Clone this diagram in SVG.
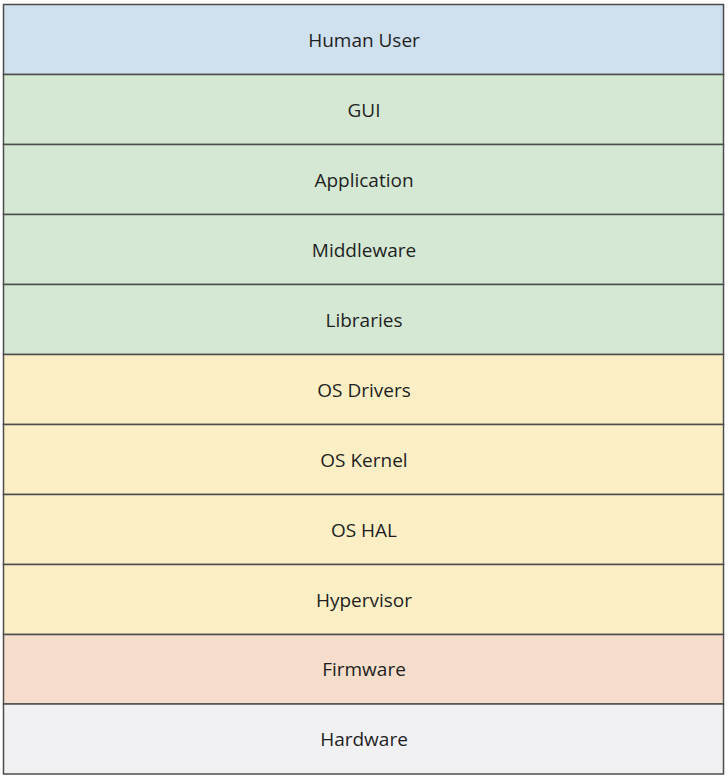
<svg xmlns="http://www.w3.org/2000/svg" width="728" height="780" viewBox="0 0 728 780">
  <style>
    .layer rect { stroke: #4d4d4d; stroke-width: 1.5; }
    .layer text { font-family: "Open Sans", "Liberation Sans", sans-serif; font-size: 19px; fill: #1f1f1f; text-anchor: middle; dominant-baseline: central; }
    .user rect { fill: #cfe0ee; }
    .app rect { fill: #d5e8d4; }
    .os rect { fill: #fcefc6; }
    .fw rect { fill: #f6ddcc; }
    .hw rect { fill: #f1f1f3; }
  </style>
  <rect width="728" height="780" fill="#ffffff"/>
  <!-- software stack, top to bottom -->
  <g id="human-user" class="layer user"><rect x="3.5" y="4.5" width="720" height="70"/><text x="364" y="40">Human User</text></g>
  <g id="gui" class="layer app"><rect x="3.5" y="74.5" width="720" height="70"/><text x="364" y="110">GUI</text></g>
  <g id="application" class="layer app"><rect x="3.5" y="144.5" width="720" height="70"/><text x="364" y="180">Application</text></g>
  <g id="middleware" class="layer app"><rect x="3.5" y="214.5" width="720" height="70"/><text x="364" y="250">Middleware</text></g>
  <g id="libraries" class="layer app"><rect x="3.5" y="284.5" width="720" height="70"/><text x="364" y="320">Libraries</text></g>
  <g id="os-drivers" class="layer os"><rect x="3.5" y="354.5" width="720" height="70"/><text x="364" y="390">OS Drivers</text></g>
  <g id="os-kernel" class="layer os"><rect x="3.5" y="424.5" width="720" height="70"/><text x="364" y="460">OS Kernel</text></g>
  <g id="os-hal" class="layer os"><rect x="3.5" y="494.5" width="720" height="70"/><text x="364" y="530">OS HAL</text></g>
  <g id="hypervisor" class="layer os"><rect x="3.5" y="564.5" width="720" height="70"/><text x="364" y="600">Hypervisor</text></g>
  <g id="firmware" class="layer fw"><rect x="3.5" y="634.5" width="720" height="69.5"/><text x="364" y="669">Firmware</text></g>
  <g id="hardware" class="layer hw"><rect x="3.5" y="704" width="720" height="70"/><text x="364" y="739">Hardware</text></g>
  <g id="connectors"/>
</svg>
